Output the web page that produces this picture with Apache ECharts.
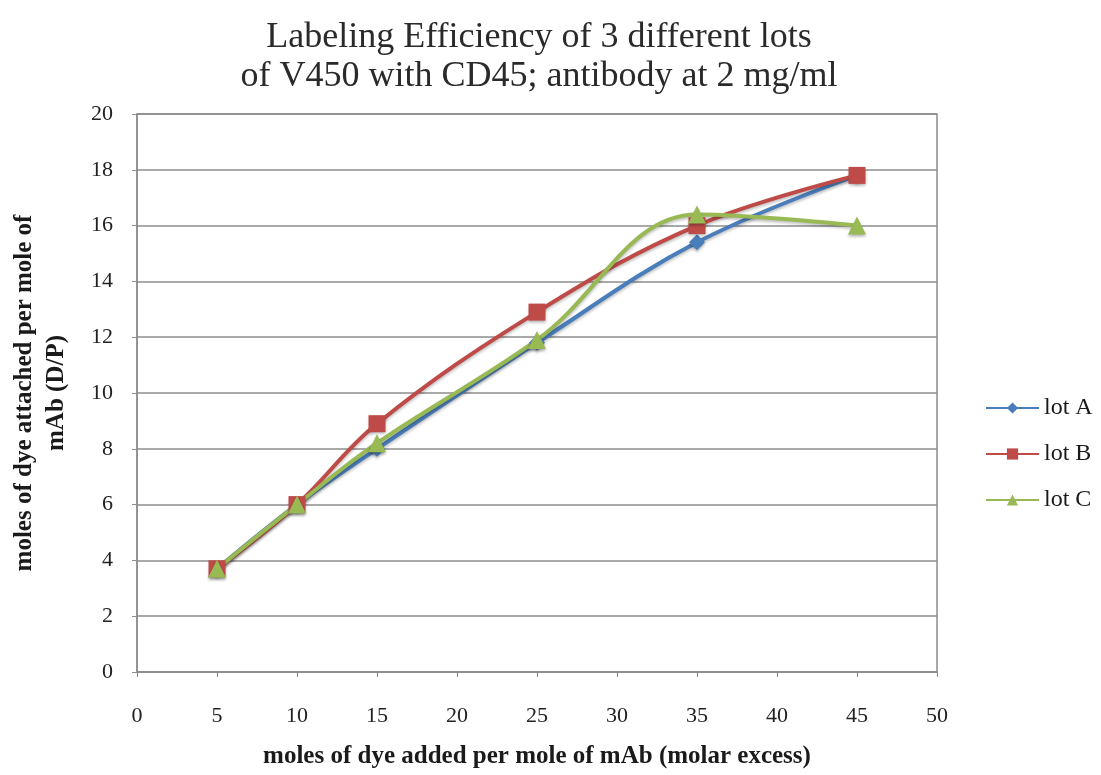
<!DOCTYPE html>
<html>
<head>
<meta charset="utf-8">
<script src="https://cdn.jsdelivr.net/npm/echarts@6/dist/echarts.min.js"></script>
<style>
html,body{margin:0;padding:0;background:#fff;}
#chart{width:1101px;height:775px;}
</style>
</head>
<body>
<div id="chart"></div>
<script>
const xValues = [5, 10, 15, 25, 35, 45];
const lotA = [3.7, 6.0, 8.0, 11.8, 15.4, 17.8];
const lotB = [3.7, 6.0, 8.9, 12.9, 16.0, 17.8];
const lotC = [3.7, 6.0, 8.2, 11.9, 16.4, 16.0];
const seriesNames = ['lot A', 'lot B', 'lot C'];
const titleText = 'Labeling Efficiency of 3 different lots\nof V450 with CD45; antibody at 2 mg/ml';
const xName = 'moles of dye added per mole of mAb (molar excess)';
const yName = 'moles of dye attached per mole of\nmAb (D/P)';

const serif = '"Liberation Serif", "Times New Roman", serif';
const colors = ['#4a7ebb', '#be4b48', '#98b954'];
const symbols = ['diamond', 'rect', 'triangle'];
const symbolSizes = [16, 17, 18];

function pairs(ys){ return xValues.map((x,i)=>[x, ys[i]]); }

const chart = echarts.init(document.getElementById('chart'));
chart.setOption({
  animation: false,
  backgroundColor: '#fff',
  title: {
    text: titleText,
    left: 534, textAlign: 'center', top: 13,
    textStyle: {fontFamily: serif, fontSize: 36, fontWeight: 'normal', color: '#2a2a2a', lineHeight: 39}
  },
  legend: {
    orient: 'vertical', left: 980, top: 391,
    itemWidth: 53, itemHeight: 14, itemGap: 22,
    textStyle: {fontFamily: serif, fontSize: 24, color: '#1a1a1a'},
    data: seriesNames
  },
  grid: {left: 137, right: 164, top: 114, bottom: 103, outerBoundsMode: 'none', containLabel: false,
         show: true, borderColor: '#8c8c8c', borderWidth: 1.5},
  xAxis: {
    type: 'value', min: 0, max: 50, interval: 5,
    name: xName, nameLocation: 'middle', nameGap: 72,
    nameTextStyle: {fontFamily: serif, fontSize: 25, fontWeight: 'bold', color: '#1a1a1a'},
    axisLine: {show: true, lineStyle: {color: '#8c8c8c', width: 1.5}},
    axisTick: {show: true, length: 5, lineStyle: {color: '#8c8c8c'}},
    axisLabel: {fontFamily: serif, fontSize: 22, color: '#222', margin: 33},
    splitLine: {show: false}
  },
  yAxis: {
    type: 'value', min: 0, max: 20, interval: 2,
    name: yName, nameLocation: 'middle', nameGap: 64,
    nameTextStyle: {fontFamily: serif, fontSize: 25, fontWeight: 'bold', color: '#1a1a1a', lineHeight: 32},
    axisLine: {show: true, lineStyle: {color: '#8c8c8c', width: 1.5}},
    axisTick: {show: true, length: 5, lineStyle: {color: '#8c8c8c'}},
    axisLabel: {fontFamily: serif, fontSize: 22, color: '#222', margin: 24},
    splitLine: {show: true, lineStyle: {color: '#8c8c8c', width: 1.5}}
  },
  series: [lotA, lotB, lotC].map((ys, i) => ({
    name: seriesNames[i], type: 'line', data: pairs(ys),
    smooth: 0.38, symbol: symbols[i], symbolSize: symbolSizes[i],
    lineStyle: {color: colors[i], width: 4, shadowColor: 'rgba(0,0,0,0.25)', shadowBlur: 3, shadowOffsetY: 2},
    itemStyle: {color: colors[i], shadowColor: 'rgba(0,0,0,0.3)', shadowBlur: 3, shadowOffsetY: 2}
  }))
});
</script>
</body>
</html>
